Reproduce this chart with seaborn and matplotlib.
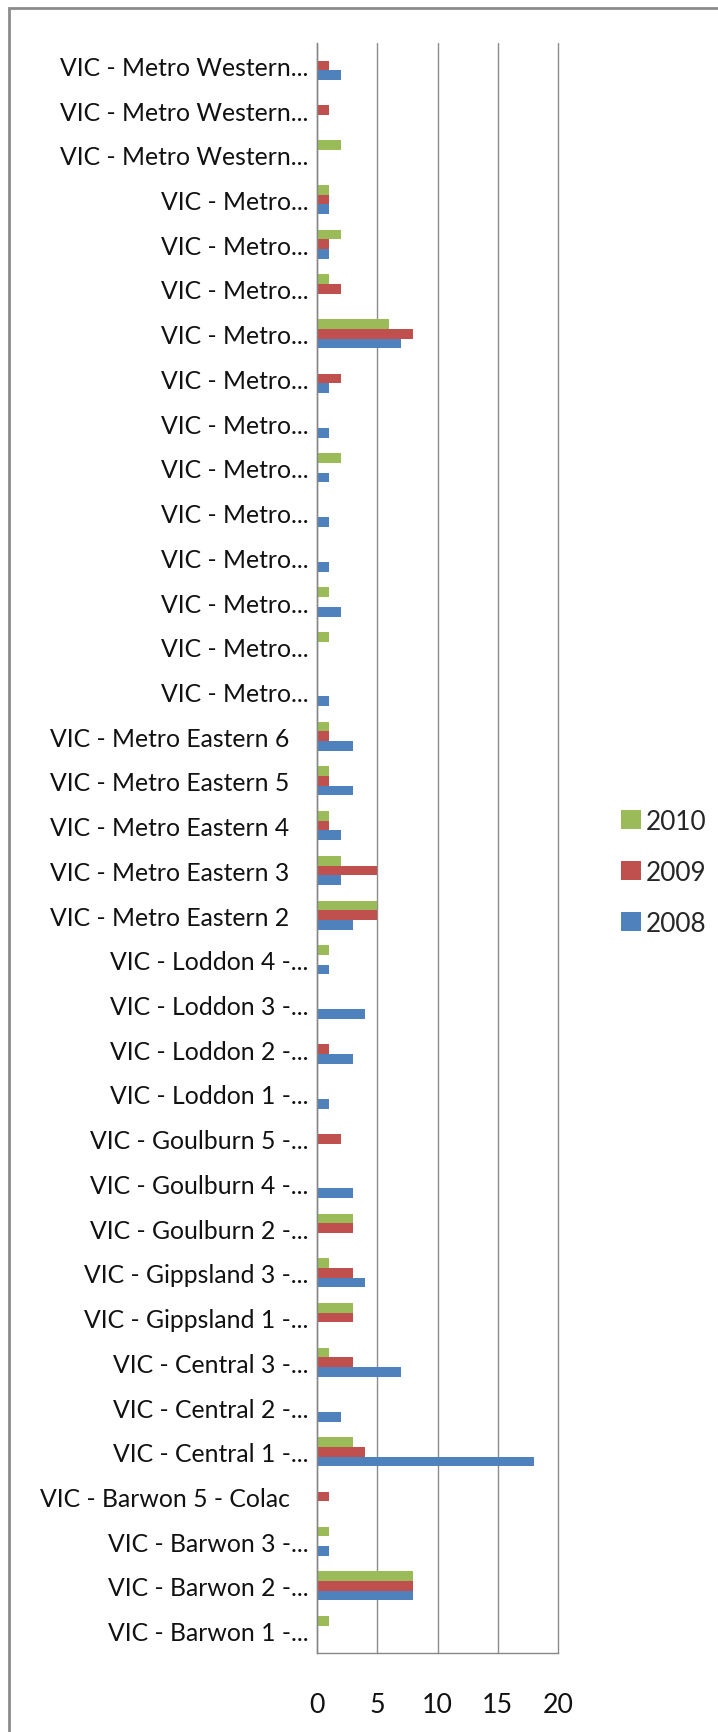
import matplotlib
matplotlib.use("Agg")
import matplotlib.pyplot as plt
import seaborn as sns
import pandas as pd
import numpy as np
from matplotlib.patches import Rectangle

# Categories listed top to bottom (as labelled in the chart)
regions = [
    "VIC - Metro Western...", "VIC - Metro Western...", "VIC - Metro Western...",
    "VIC - Metro...", "VIC - Metro...", "VIC - Metro...", "VIC - Metro...",
    "VIC - Metro...", "VIC - Metro...", "VIC - Metro...", "VIC - Metro...",
    "VIC - Metro...", "VIC - Metro...", "VIC - Metro...", "VIC - Metro...",
    "VIC - Metro Eastern 6   ", "VIC - Metro Eastern 5   ", "VIC - Metro Eastern 4   ",
    "VIC - Metro Eastern 3   ", "VIC - Metro Eastern 2   ",
    "VIC - Loddon 4 -...", "VIC - Loddon 3 -...", "VIC - Loddon 2 -...", "VIC - Loddon 1 -...",
    "VIC - Goulburn 5 -...", "VIC - Goulburn 4 -...", "VIC - Goulburn 2 -...",
    "VIC - Gippsland 3 -...", "VIC - Gippsland 1 -...",
    "VIC - Central 3 -...", "VIC - Central 2 -...", "VIC - Central 1 -...",
    "VIC - Barwon 5 - Colac   ", "VIC - Barwon 3 -...", "VIC - Barwon 2 -...", "VIC - Barwon 1 -...",
]
v2008 = [2, 0, 0, 1, 1, 0, 7, 1, 1, 1, 1, 1, 2, 0, 1,
         3, 3, 2, 2, 3, 1, 4, 3, 1, 0, 3, 0, 4, 0, 7, 2, 18, 0, 1, 8, 0]
v2009 = [1, 1, 0, 1, 1, 2, 8, 2, 0, 0, 0, 0, 0, 0, 0,
         1, 1, 1, 5, 5, 0, 0, 1, 0, 2, 0, 3, 3, 3, 3, 0, 4, 1, 0, 8, 0]
v2010 = [0, 0, 2, 1, 2, 1, 6, 0, 0, 2, 0, 0, 1, 1, 0,
         1, 1, 1, 2, 5, 1, 0, 0, 0, 0, 0, 3, 1, 3, 1, 0, 3, 0, 1, 8, 1]
years = ["2010", "2009", "2008"]
colors = {"2010": "#9BBB59", "2009": "#C0504D", "2008": "#4F81BD"}

n = len(regions)
keys = [f"r{i:02d}" for i in range(n)]
df = pd.DataFrame({
    "key": keys * 3,
    "year": ["2008"] * n + ["2009"] * n + ["2010"] * n,
    "value": v2008 + v2009 + v2010,
})

sns.set_style("white")
plt.rcParams["font.family"] = ["Lato", "DejaVu Sans"]

fig = plt.figure(figsize=(7.18, 17.33), dpi=100)

# choose a font size so that the label width matches the original (~252 px)
probe = fig.text(0, 0, "VIC - Barwon 5 - Colac", fontsize=10)
fig.canvas.draw()
w10 = probe.get_window_extent().width
probe.remove()
fs = 10 * 250 / w10

ax = fig.add_axes([317 / 718, 1 - 1654 / 1733, 241 / 718, (1654 - 44) / 1733])

sns.barplot(data=df, y="key", x="value", hue="year", order=keys, hue_order=years,
            palette=colors, orient="h", width=0.65, saturation=1, ax=ax,
            edgecolor="none", linewidth=0)

ax.set_xlim(0, 20)
ax.set_xticks([0, 5, 10, 15, 20])
ax.set_ylim(n - 0.5, -0.5)
ax.set_yticks(range(n))
ax.set_yticklabels(regions)
ax.set_yticks(np.arange(-0.5, n, 1.0), minor=True)
ax.tick_params(axis="y", which="major", length=0, pad=6, labelsize=fs, labelcolor="#111111")
ax.tick_params(axis="y", which="minor", length=6, color="#868686", width=1, direction="out")
ax.tick_params(axis="x", which="major", length=6, color="#868686", width=1, direction="out",
               pad=22, labelsize=fs * 1.08, labelcolor="#111111")
ax.set_xlabel("")
ax.set_ylabel("")

ax.grid(axis="x", color="#8C8C8C", linewidth=1)
for gl in ax.get_xgridlines():
    gl.set_clip_on(False)
ax.set_axisbelow(True)
for s in ["top", "right"]:
    ax.spines[s].set_visible(False)
for s in ["left", "bottom"]:
    ax.spines[s].set_color("#868686")
    ax.spines[s].set_linewidth(1)

leg = ax.legend(loc="center left", bbox_to_anchor=(1.165, 0.485), frameon=False,
                fontsize=fs * 1.05, handlelength=0.75, handleheight=0.75, handletextpad=0.2,
                labelspacing=1.0)

fig.patches.append(Rectangle((9 / 718, -0.1), 1.2, 1.1 - 9 / 1733,
                             transform=fig.transFigure, fill=False,
                             edgecolor="#8C8C8C", linewidth=2))

fig.savefig("out.png", dpi=100)
